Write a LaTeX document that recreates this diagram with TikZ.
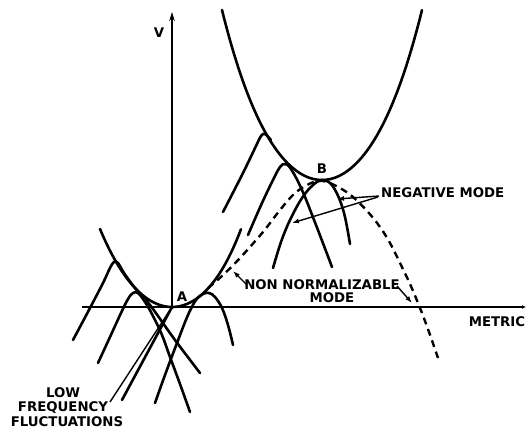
\documentclass[tikz,border=0pt]{standalone}
\usepackage{fontspec}
\setmainfont{DejaVu Sans}
\usetikzlibrary{arrows.meta}
\begin{document}
\begin{tikzpicture}[x=1pt,y=-1pt,
  curve/.style={line width=2.6pt, line cap=round, line join=round},
  axisline/.style={line width=1.4pt},
  nnmode/.style={line width=2.4pt, dash pattern=on 7pt off 5pt},
  lbl/.style={font=\fontsize{13.3}{14}\selectfont\bfseries, inner sep=0pt},
  pointer/.style={line width=1.4pt, -{Latex[length=7pt,width=5pt]}},
  leader/.style={line width=1.4pt}]
\useasboundingbox (0,0) rectangle (527,430);
% axes
\coordinate (A) at (172,307);
\coordinate (Bv) at (322,180);
\coordinate (hl) at (82,307);
\coordinate (hr) at (526,307);
\coordinate (vt) at (172,12);
\draw[axisline,-{Latex[length=4pt,width=4pt]}] (hl) -- (hr);
\draw[axisline,-{Stealth[length=9pt,width=5.5pt]}] (A) -- (vt);
% parabola A
\draw[curve] plot[domain=-0.72:0, samples=40, variable=\u] ({172+100*\u},{307-135*\u*\u-30*\u*\u*\u*\u})
  -- plot[domain=0:0.69, samples=40, variable=\u] ({172+100*\u},{307-135*\u*\u-60*\u*\u*\u*\u});
% parabola B
\draw[curve] plot[domain=-1:1, samples=80, variable=\u] ({322+100*\u},{180-138*\u*\u-32*\u*\u*\u*\u});
% fluctuations at A
\draw[curve] plot[smooth, tension=0.6] coordinates {(73,340) (90,308) (103,283) (110,268) (114,262) (118,263) (124,273) (135,288) (150,305) (175,340) (200,373)};
\draw[curve] plot[smooth, tension=0.6] coordinates {(98,363) (110,337) (121,313) (128,299) (133,293) (138,293) (145,302) (153,316) (162,335) (170,357) (180,384) (190,412)};
\draw[curve] plot[smooth, tension=0.6] coordinates {(155,403) (165,375) (177,343) (188,315) (196,300) (203,294) (209,293) (215,297) (222,308) (228,325) (233,345)};
\coordinate (t0) at (122,400);
\draw[curve] (t0) -- (A);
% fluctuations at B
\draw[curve] plot[smooth, tension=0.6] coordinates {(223,212) (243,173) (256,146) (261,136) (265,134) (271,140)};
\draw[curve] plot[smooth, tension=0.6] coordinates {(248,235) (262,203) (274,178) (280,167) (285,164) (291,169) (302,190) (316,225) (332,267)};
\draw[curve] plot[smooth, tension=0.6] coordinates {(273,268) (281,242) (290,220) (302,198) (313,185) (322,180) (331,184) (339,198) (345,217) (350,244)};
% non normalizable mode
\draw[nnmode] plot[smooth, tension=0.6] coordinates {(208,288) (222,276) (240,258) (263,232) (280,210) (294,194) (307,185) (318,181) (327,182) (340,188) (353,197) (368,212) (380,227) (390,243) (400,263) (410,284) (420,308) (429,332) (438,358)};
% labels
\node[lbl] (V) at (159,33) {V};
\node[lbl] (Alab) at (182,297) {A};
\node[lbl] (Blab) at (322,169) {B};
\node[lbl] (metric) at (497,322) {METRIC};
\node[lbl, anchor=west] (neg) at (381,193) {NEGATIVE MODE};
\node[lbl] (nn) at (322,285) {NON NORMALIZABLE};
\node[lbl] (mode) at (332,298) {MODE};
\node[lbl] (low) at (63,393) {LOW};
\node[lbl] (freq) at (63,407.5) {FREQUENCY};
\node[lbl] (fluct) at (67,422) {FLUCTUATIONS};
% pointers
\coordinate (n1) at (379,196);
\coordinate (n2) at (378,197);
\coordinate (m1) at (337,199);
\coordinate (m2) at (292,223);
\draw[pointer] (n1) -- (m1);
\draw[pointer] (n2) -- (m2);
\coordinate (p1) at (247,285);
\coordinate (q1) at (233,271);
\coordinate (p2) at (397,286);
\coordinate (q2) at (412,303);
\draw[pointer] (p1) -- (q1);
\draw[pointer] (p2) -- (q2);
\coordinate (lf) at (110,402);
\draw[leader] (lf) -- (A);
\end{tikzpicture}
\end{document}
